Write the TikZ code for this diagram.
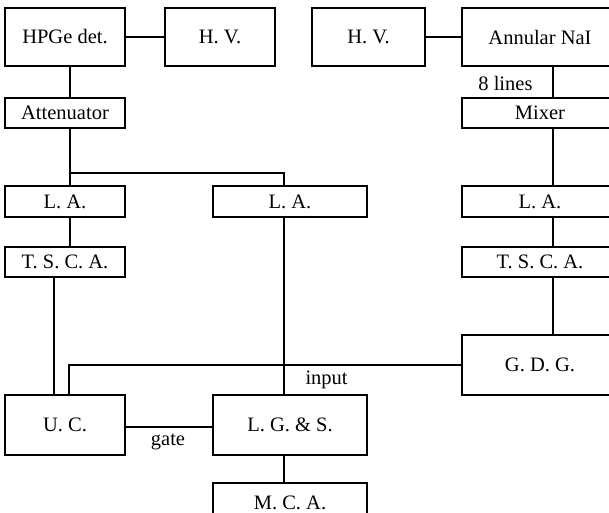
\documentclass[tikz,border=0pt]{standalone}
\usepackage{fontspec}
\setmainfont{Liberation Serif}
\tikzset{blk/.style={draw,line width=2.4pt,inner sep=1pt},
	wire/.style={line width=2.4pt}}
\begin{document}
\begin{tikzpicture}[x=1pt,y=-1pt,font=\fontsize{20.5}{24}\selectfont]
		\path[use as bounding box] (0,0) rectangle (609,512);
		\clip (0,0) rectangle (609,512);
		\foreach \x/\y/\w/\h/\name/\texn in {65/37/120/58/hpge/HPGe det.,
			220/37/110/58/hvl/H. V., 368.5/37/113/58/hvr/H. V.,
			540/37/156/58/nai/Annular NaI,
			65/113/120/30/att/Attenuator, 540/113/156/30/mix/Mixer,
			65/201.5/120/31/laa/L. A., 290/201.5/154/31/lab/L. A.,
			540/201.5/156/31/lac/L. A.,
			65/262/120/30/tsa/T. S. C. A., 540/262/156/30/tsc/T. S. C. A.,
			540/365/156/60/gdg/G. D. G.,
			65/425/120/60/uc/U. C., 290/425/154/60/lgs/L. G. \& S.,
			290/503/154/40/mca/M. C. A.}
		\path (\x,\y) node[blk,minimum width=\w,minimum height=\h](\name){\texn};
		\draw[wire] (hpge)--(hvl) (hvr)--(nai);
		\draw[wire] ([xshift=5pt]hpge.south)--([xshift=5pt]att.north);
		\draw[wire] ([xshift=5pt]att.south)--([xshift=5pt]laa.north);
		\draw[wire] ([xshift=5pt]att.south)++(0,44) -| ([xshift=-6pt]lab.north);
		\draw[wire] ([xshift=5pt]laa.south)--([xshift=5pt]tsa.north);
		\draw[wire] ([xshift=-11pt]tsa.south)--([xshift=-11pt]uc.north);
		\draw[wire] ([xshift=4pt]uc.north) |- (gdg.west);
		\draw[wire] ([xshift=-6pt]lab.south)--([xshift=-6pt]lgs.north);
		\draw[wire] ([yshift=-2pt]uc.east)--([yshift=-2pt]lgs.west);
		\draw[wire] ([xshift=-6pt]lgs.south)--([xshift=-6pt]mca.north);
		\draw[wire] ([xshift=13pt]nai.south)--([xshift=13pt]mix.north)
		([xshift=13pt]mix.south)--([xshift=13pt]lac.north)
		([xshift=13pt]lac.south)--([xshift=13pt]tsc.north)
		([xshift=13pt]tsc.south)--([xshift=13pt]gdg.north);
		\path (536,83) node[anchor=east](lines){8 lines}
		(302,380) node[anchor=west](inp){input}
		(168,442) node(gate){gate};
	\end{tikzpicture}
\end{document}
